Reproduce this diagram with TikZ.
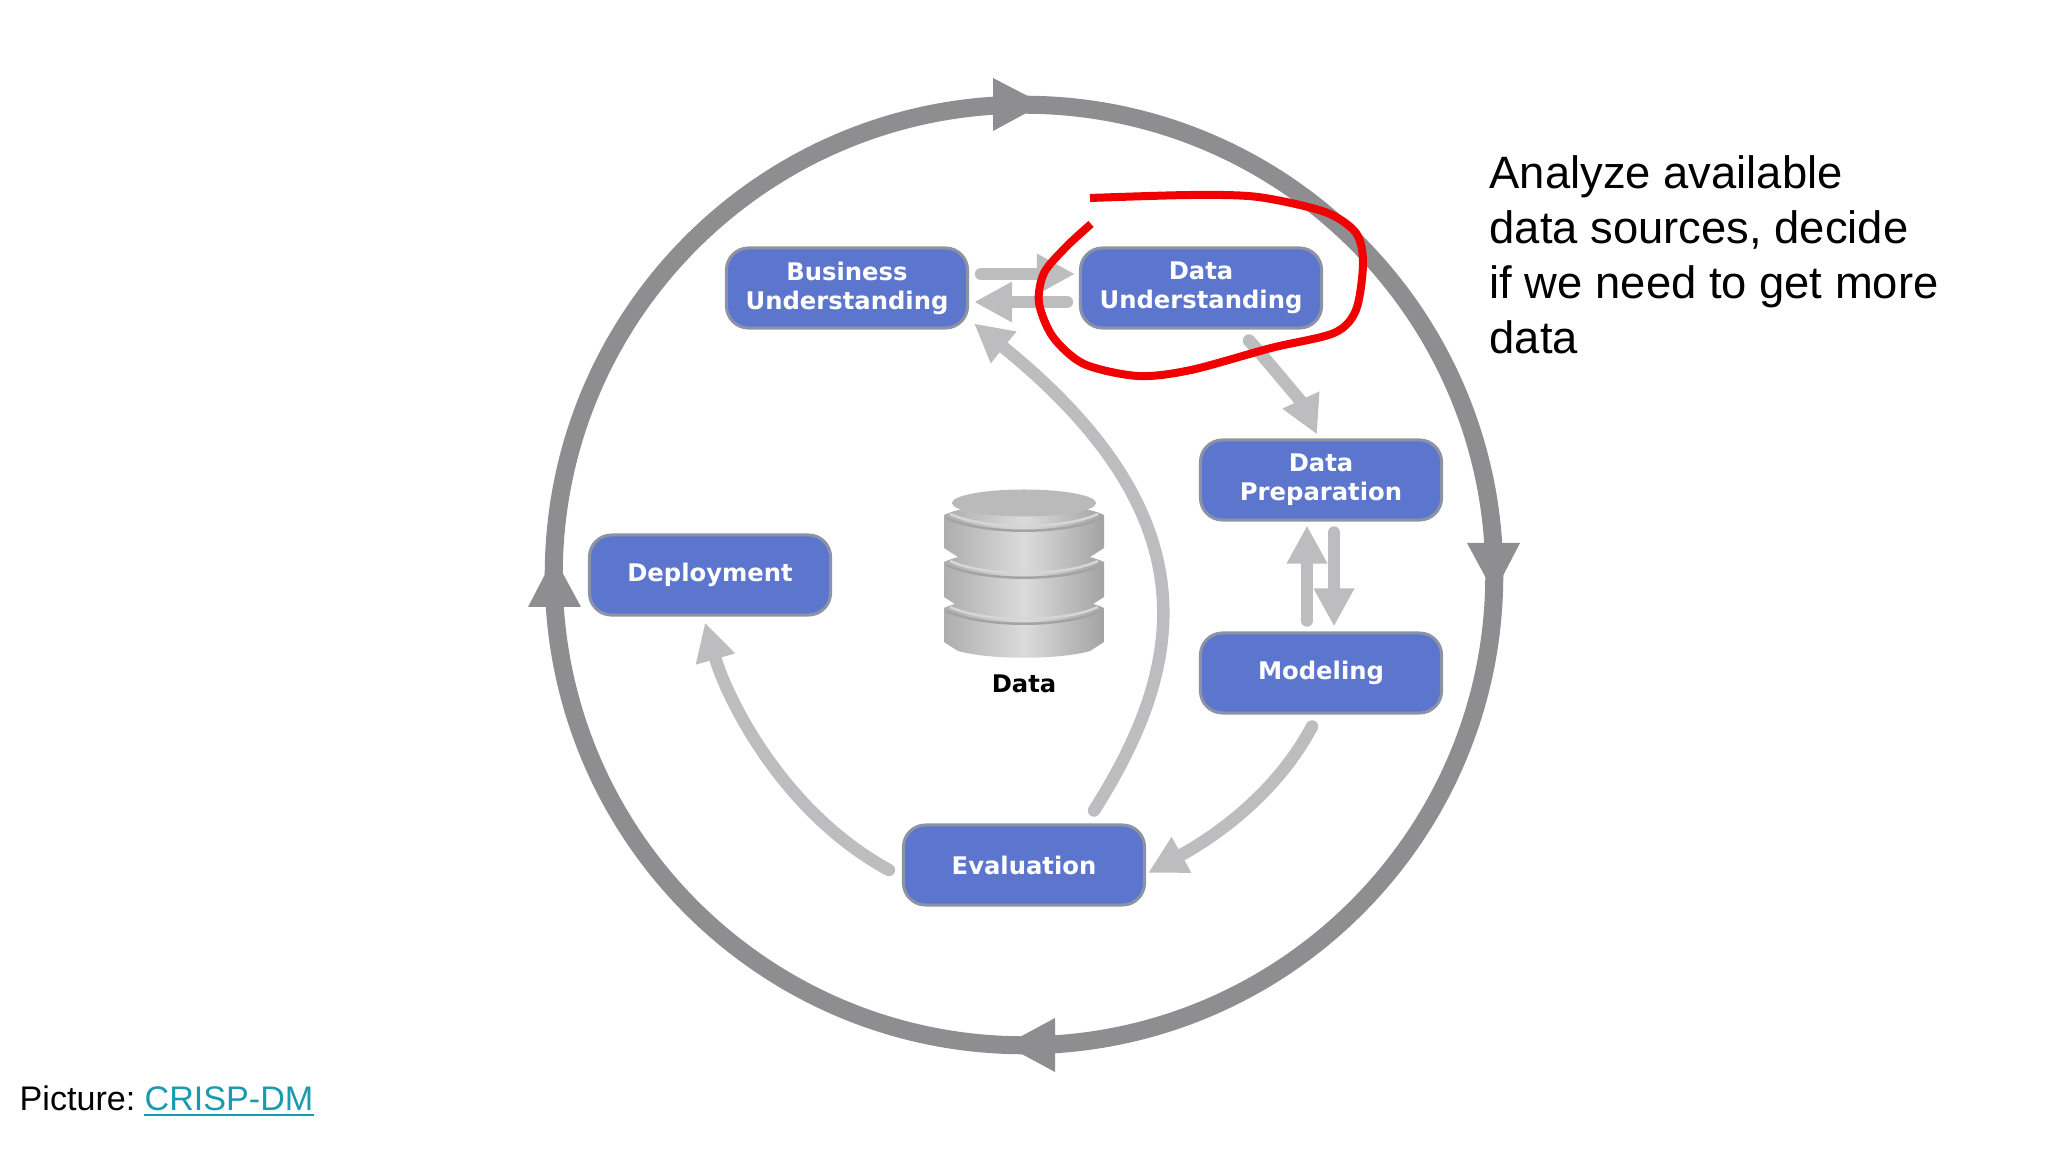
\documentclass[tikz,border=0pt]{standalone}
\usepackage{fontspec}
\usetikzlibrary{arrows.meta}
\newfontfamily\boxfont{DejaVu Sans}
\setmainfont{Liberation Sans}
\definecolor{boxblue}{HTML}{5B76CC}
\definecolor{boxedge}{HTML}{8C93A4}
\definecolor{ringgray}{HTML}{8E8E90}
\definecolor{flowgray}{HTML}{BDBDC0}
\definecolor{linkteal}{HTML}{1A9AAE}
\definecolor{scribblered}{HTML}{F00000}
\tikzset{
	phasebox/.style={draw=boxedge, line width=0.3mm, fill=boxblue, rounded corners=2.2mm, minimum width=2.41cm, minimum height=0.8cm, inner sep=0pt, align=center, text=white, font=\boxfont\bfseries\fontsize{6.9}{8.3}\selectfont},
	flowarrow/.style={draw=flowgray, line width=1.25mm, line cap=round, -{Triangle[width=3.8mm,length=3.8mm]}},
	ringline/.style={draw=ringgray, line width=1.8mm},
	ringhead/.style={fill=ringgray},
	discside/.style={left color=black!32, right color=black!36, middle color=black!14},
	disclip/.style={draw=black!36, line width=0.25mm},
}
\begin{document}
\begin{tikzpicture}[x=0.01cm,y=-0.01cm]
	\useasboundingbox (0,0) rectangle (2048,1152);

	% Outer ring.
	\coordinate (ringcentre) at (1024,575);
	\draw[ringline] (ringcentre) circle[radius=4.7cm];
	\fill[ringhead] (993,78) -- (1043,104) -- (993,131) -- cycle;
	\fill[ringhead] (1467,543) -- (1494,593) -- (1520,543) -- cycle;
	\fill[ringhead] (1055,1018) -- (1005,1045) -- (1055,1072) -- cycle;
	\fill[ringhead] (528,607) -- (554,557) -- (581,607) -- cycle;

	% Phases.
	\node[phasebox] (business) at (847,288) {Business\\Understanding};
	\node[phasebox] (understanding) at (1201,288) {Data\\Understanding};
	\node[phasebox] (preparation) at (1321,480) {Data\\Preparation};
	\node[phasebox] (modeling) at (1321,673) {Modeling};
	\node[phasebox] (evaluation) at (1024,865) {Evaluation};
	\node[phasebox] (deployment) at (710,575) {Deployment};

	% Data stack.
	\foreach \disctop/\discbot in {608/642, 562/597, 515/548}{
		\path[discside] (944,\disctop) -- (944,\discbot) -- (958,\discbot+9) .. controls (990,\discbot+18) and (1058,\discbot+18) .. (1090,\discbot+9) -- (1104,\discbot) -- (1104,\disctop) .. controls (1070,\disctop-16) and (978,\disctop-16) .. (944,\disctop) -- cycle;
		\draw[disclip] (946,\disctop+3) .. controls (985,\disctop+20) and (1063,\disctop+20) .. (1102,\disctop+3);
		\draw[black!16, line width=0.25mm] (950,\disctop-1) .. controls (985,\disctop+15) and (1063,\disctop+15) .. (1098,\disctop-1);
	}
	\fill[black!27] (1024,503) ellipse[x radius=0.72cm, y radius=0.135cm];
	\node[font=\boxfont\bfseries\fontsize{6.9}{8.3}\selectfont, inner sep=0pt] (datalabel) at (1024,684) {Data};

	% Arrows between phases.
	\draw[flowarrow] ([shift={(12,-14)}]business.east) -- ([shift={(-4,-14)}]understanding.west);
	\draw[flowarrow] ([shift={(-12,14)}]understanding.west) -- ([shift={(5,14)}]business.east);
	\draw[flowarrow] ([shift={(48,11)}]understanding.south) .. controls +(20,22) and +(-14,-30) .. ([shift={(-4,-4)}]preparation.north);
	\draw[flowarrow] ([shift={(13,11)}]preparation.south) -- ([shift={(13,-5)}]modeling.north);
	\draw[flowarrow] ([shift={(-14,-11)}]modeling.north) -- ([shift={(-14,4)}]preparation.south);
	\draw[flowarrow] ([shift={(-9,12)}]modeling.south) .. controls +(-40,75) and +(55,-30) .. ([shift={(2,8)}]evaluation.east);
	\draw[flowarrow] ([shift={(70,-13)}]evaluation.north) .. controls +(96,-151) and +(235,190) .. ([shift={(5,-6)}]business.south east);
	\draw[flowarrow] ([shift={(-13,5)}]evaluation.west) .. controls +(-110,-60) and +(20,70) .. ([shift={(-5,6)}]deployment.south);

	% Annotation.
	\draw[scribblered, line width=0.8mm] plot[smooth] coordinates {(1090,198) (1191,195) (1258,197) (1325,212) (1356,233) (1363,263) (1356,310) (1334,333) (1271,348) (1191,370) (1138,376) (1084,364) (1053,337) (1039,303) (1044,273) (1066,247) (1091,224)};

	\node[anchor=north west, inner sep=0pt, align=left, font=\fontsize{12.9}{15.7}\selectfont] (note) at (1489,154.5) {Analyze available\\data sources, decide\\if we need to get more\\data};
	\node[anchor=base west, inner sep=0pt, font=\fontsize{9.7}{12}\selectfont] (picturelabel) at (19,1110) {Picture:};
	\node[anchor=base west, inner sep=0pt, text=linkteal, font=\fontsize{9.7}{12}\selectfont] (crispdm) at (144,1110) {CRISP-DM};
	\draw[linkteal, line width=0.25mm] ([yshift=-0.4mm]crispdm.south west) -- ([yshift=-0.4mm]crispdm.south east);
\end{tikzpicture}
\end{document}
